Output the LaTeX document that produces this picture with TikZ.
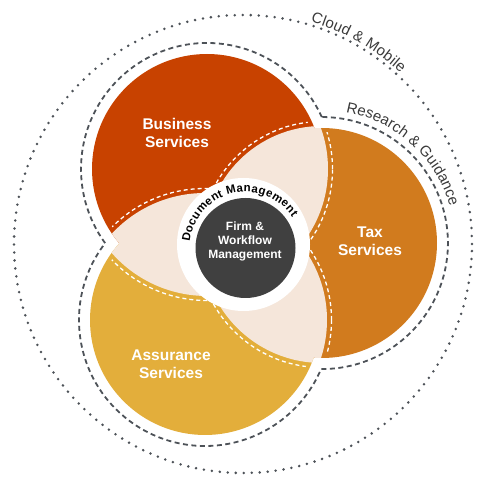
\documentclass[tikz,border=0pt]{standalone}
\usepackage{fontspec}
\setmainfont{Liberation Sans}
\usetikzlibrary{calc,decorations.text}
\definecolor{bizc}{HTML}{C84200}
\definecolor{taxc}{HTML}{D17B1E}
\definecolor{assc}{HTML}{E3AE3B}
\definecolor{beigec}{HTML}{F5E6DA}
\definecolor{darkc}{HTML}{404040}
\definecolor{linec}{HTML}{4D5258}
\definecolor{txtc}{HTML}{3A3A3A}
\begin{document}
\begin{tikzpicture}[x=1pt,y=1pt,
  wdash/.style={white, line width=1.3pt, dash pattern=on 4pt off 3pt},
  outerdash/.style={linec, line width=1.8pt, dash pattern=on 5pt off 3.5pt},
  dotline/.style={linec, line width=2.8pt, line cap=round, dash pattern=on 0pt off 8pt},
  svc/.style={text=white, font=\bfseries\fontsize{15.5}{18}\selectfont, align=center},
]
\useasboundingbox (0,0) rectangle (480,480);
\coordinate (B) at (207,311);
\coordinate (T) at (322,237);
\coordinate (A) at (205,160);
\coordinate (R) at (243.5,235.5);
\coordinate (D) at (245.5,232);
\coordinate (O) at (243,236);

% outer dotted circle
\draw[dotline] (O) circle (229);
% dashed outline of the union
\draw[outerdash, line join=miter]
  ($(B)+(24.37:126)$) arc[start angle=24.37, end angle=216.06, radius=126]
  arc[start angle=142.41, end angle=337.11, radius=126]
  arc[start angle=269.6, end angle=450.1, radius=126] -- cycle;

% coloured circles
\fill[bizc] (B) circle (115);
\fill[taxc] (T) circle (115);
\fill[assc] (A) circle (115);

% white dashed guides
\begin{scope}
  \clip (B) circle (111);
  \draw[wdash] (T) circle (121.5);
  \draw[wdash] (A) circle (131.5);
\end{scope}
\begin{scope}
  \clip (T) circle (111);
  \draw[wdash] (B) circle (125.5);
  \draw[wdash] (A) circle (126.5);
\end{scope}
\begin{scope}
  \clip (A) circle (111);
  \draw[wdash] (B) circle (131.5);
  \draw[wdash] (T) circle (124.5);
\end{scope}

% beige overlaps
\begin{scope}
  \clip (B) circle (115);
  \fill[beigec] (T) circle (117);
  \fill[beigec] (A) circle (127);
\end{scope}
\begin{scope}
  \clip (T) circle (115);
  \fill[beigec] (B) circle (121);
  \fill[beigec] (A) circle (122);
\end{scope}
\begin{scope}
  \clip (A) circle (115);
  \fill[beigec] (B) circle (127);
  \fill[beigec] (T) circle (120);
\end{scope}

% centre
\fill[white] (R) circle (66.5);
\fill[darkc] (D) circle (50);

% labels
\node[svc] (biz) at (177,347.5) {Business\\Services};
\node[svc] (tax) at (370,239) {Tax\\Services};
\node[svc] (ass) at (171,116) {Assurance\\Services};
\node[text=white, font=\bfseries\fontsize{12}{14}\selectfont, align=center] (firm) at (245,238.7) {Firm \&\\Workflow\\Management};

% curved labels
\path[decorate, decoration={text along path,
  text={|\bfseries\fontsize{11.5}{12}\selectfont|Document Management},
  text align={fit to path}, text color=black}]
  ($(D)+(173.8:56)$) arc[start angle=173.8, end angle=33.2, radius=56];
\path[decorate, decoration={text along path,
  text={|\fontsize{15}{18}\selectfont|Research {\&} Guidance},
  text align={fit to path}, text color=txtc}]
  ($(T)+(79.7:133)$) arc[start angle=79.7, end angle=15.9, radius=133];
\path[decorate, decoration={text along path,
  text={|\fontsize{15}{18}\selectfont|Cloud {\&} Mobile},
  text align={fit to path}, text color=txtc}]
  ($(O)+(73.1:232.5)$) arc[start angle=73.1, end angle=47.3, radius=232.5];
\end{tikzpicture}
\end{document}
